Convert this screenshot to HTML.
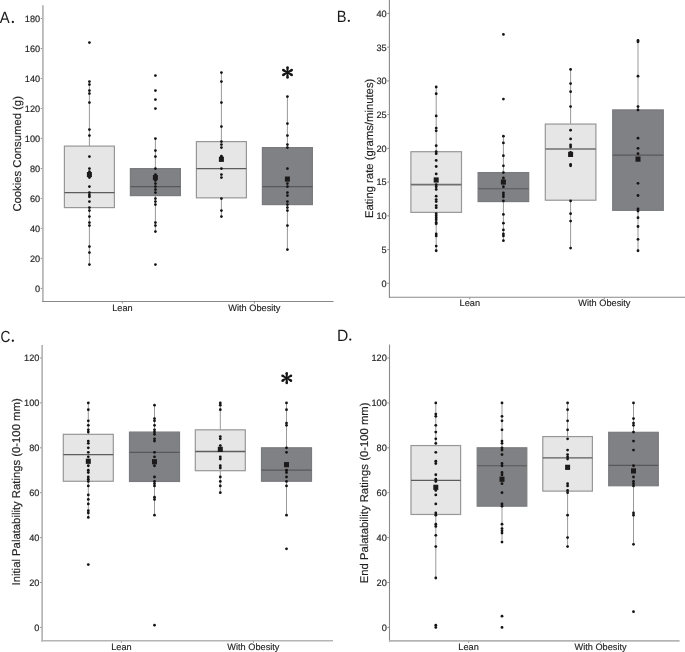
<!DOCTYPE html>
<html><head><meta charset="utf-8"><style>
html,body{margin:0;padding:0;background:#fff;}
svg{display:block;will-change:transform;}
text{font-family:"Liberation Sans",sans-serif;fill:#1a1a1a;text-rendering:geometricPrecision;}
.tk{font-size:9.2px;fill:#262626;stroke:#262626;stroke-width:0.18px;}
.ct{font-size:9.2px;fill:#1f1f1f;stroke:#1f1f1f;stroke-width:0.15px;}
.lb{font-size:11.3px;fill:#1f1f1f;stroke:#1f1f1f;stroke-width:0.15px;}
.lt{font-size:16.2px;fill:#1a1a1a;}
.st{font-size:25px;fill:#1a1a1a;}
</style></head><body>
<svg width="685" height="652" viewBox="0 0 685 652">
<rect width="685" height="652" fill="#fff"/>
<line x1="40.7" y1="288.4" x2="42.9" y2="288.4" stroke="#858585" stroke-width="0.9"/>
<text x="40.2" y="291.8" text-anchor="end" class="tk">0</text>
<line x1="40.7" y1="258.41" x2="42.9" y2="258.41" stroke="#858585" stroke-width="0.9"/>
<text x="40.2" y="261.81" text-anchor="end" class="tk">20</text>
<line x1="40.7" y1="228.42" x2="42.9" y2="228.42" stroke="#858585" stroke-width="0.9"/>
<text x="40.2" y="231.82" text-anchor="end" class="tk">40</text>
<line x1="40.7" y1="198.44" x2="42.9" y2="198.44" stroke="#858585" stroke-width="0.9"/>
<text x="40.2" y="201.84" text-anchor="end" class="tk">60</text>
<line x1="40.7" y1="168.45" x2="42.9" y2="168.45" stroke="#858585" stroke-width="0.9"/>
<text x="40.2" y="171.85" text-anchor="end" class="tk">80</text>
<line x1="40.7" y1="138.46" x2="42.9" y2="138.46" stroke="#858585" stroke-width="0.9"/>
<text x="40.2" y="141.86" text-anchor="end" class="tk">100</text>
<line x1="40.7" y1="108.47" x2="42.9" y2="108.47" stroke="#858585" stroke-width="0.9"/>
<text x="40.2" y="111.87" text-anchor="end" class="tk">120</text>
<line x1="40.7" y1="78.48" x2="42.9" y2="78.48" stroke="#858585" stroke-width="0.9"/>
<text x="40.2" y="81.88" text-anchor="end" class="tk">140</text>
<line x1="40.7" y1="48.5" x2="42.9" y2="48.5" stroke="#858585" stroke-width="0.9"/>
<text x="40.2" y="51.9" text-anchor="end" class="tk">160</text>
<line x1="40.7" y1="18.51" x2="42.9" y2="18.51" stroke="#858585" stroke-width="0.9"/>
<text x="40.2" y="21.91" text-anchor="end" class="tk">180</text>
<line x1="122.4" y1="301.5" x2="122.4" y2="303.5" stroke="#858585" stroke-width="0.9"/>
<text x="122.4" y="311.1" text-anchor="middle" class="ct">Lean</text>
<line x1="254.4" y1="301.5" x2="254.4" y2="303.5" stroke="#858585" stroke-width="0.9"/>
<text x="254.4" y="311.1" text-anchor="middle" class="ct">With Obesity</text>
<line x1="89.4" y1="81.6" x2="89.4" y2="146.1" stroke="#999999" stroke-width="1"/>
<line x1="89.4" y1="207.6" x2="89.4" y2="264.6" stroke="#999999" stroke-width="1"/>
<rect x="64.4" y="146.1" width="50" height="61.5" fill="#e6e6e6" stroke="#979797" stroke-width="1.2"/>
<line x1="64.4" y1="192.6" x2="114.4" y2="192.6" stroke="#5c5c5c" stroke-width="1.3"/>
<circle cx="89.4" cy="42.6" r="1.4" fill="#141414"/>
<circle cx="89.4" cy="81.6" r="1.4" fill="#141414"/>
<circle cx="89.4" cy="84.6" r="1.4" fill="#141414"/>
<circle cx="89.4" cy="90.6" r="1.4" fill="#141414"/>
<circle cx="89.4" cy="93.6" r="1.4" fill="#141414"/>
<circle cx="89.4" cy="102.6" r="1.4" fill="#141414"/>
<circle cx="89.4" cy="129.6" r="1.4" fill="#141414"/>
<circle cx="89.4" cy="135.6" r="1.4" fill="#141414"/>
<circle cx="89.4" cy="156.6" r="1.4" fill="#141414"/>
<circle cx="89.4" cy="168.6" r="1.4" fill="#141414"/>
<circle cx="89.4" cy="171.6" r="1.4" fill="#141414"/>
<circle cx="89.4" cy="174.6" r="1.4" fill="#141414"/>
<circle cx="89.4" cy="177.6" r="1.4" fill="#141414"/>
<circle cx="89.4" cy="186.6" r="1.4" fill="#141414"/>
<circle cx="89.4" cy="192.6" r="1.4" fill="#141414"/>
<circle cx="89.4" cy="195" r="1.4" fill="#141414"/>
<circle cx="89.4" cy="196.8" r="1.4" fill="#141414"/>
<circle cx="89.4" cy="201.6" r="1.4" fill="#141414"/>
<circle cx="89.4" cy="207.6" r="1.4" fill="#141414"/>
<circle cx="89.4" cy="210.6" r="1.4" fill="#141414"/>
<circle cx="89.4" cy="216.6" r="1.4" fill="#141414"/>
<circle cx="89.4" cy="222.6" r="1.4" fill="#141414"/>
<circle cx="89.4" cy="225.6" r="1.4" fill="#141414"/>
<circle cx="89.4" cy="246.6" r="1.4" fill="#141414"/>
<circle cx="89.4" cy="252.6" r="1.4" fill="#141414"/>
<circle cx="89.4" cy="264.6" r="1.4" fill="#141414"/>
<rect x="86.9" y="172" width="5" height="5.2" fill="#1c1a1a"/>
<line x1="155.4" y1="138.6" x2="155.4" y2="168.6" stroke="#999999" stroke-width="1"/>
<line x1="155.4" y1="195.6" x2="155.4" y2="231.6" stroke="#999999" stroke-width="1"/>
<rect x="130.4" y="168.6" width="50" height="27" fill="#808185" stroke="#7a7b7e" stroke-width="1.2"/>
<line x1="130.4" y1="186.6" x2="180.4" y2="186.6" stroke="#58585b" stroke-width="1.2"/>
<circle cx="155.4" cy="75.6" r="1.4" fill="#141414"/>
<circle cx="155.4" cy="90.6" r="1.4" fill="#141414"/>
<circle cx="155.4" cy="99.6" r="1.4" fill="#141414"/>
<circle cx="155.4" cy="108.6" r="1.4" fill="#141414"/>
<circle cx="155.4" cy="138.6" r="1.4" fill="#141414"/>
<circle cx="155.4" cy="150.6" r="1.4" fill="#141414"/>
<circle cx="155.4" cy="156.6" r="1.4" fill="#141414"/>
<circle cx="155.4" cy="168.6" r="1.4" fill="#141414"/>
<circle cx="155.4" cy="174.6" r="1.4" fill="#141414"/>
<circle cx="155.4" cy="177.6" r="1.4" fill="#141414"/>
<circle cx="155.4" cy="180.6" r="1.4" fill="#141414"/>
<circle cx="155.4" cy="183.6" r="1.4" fill="#141414"/>
<circle cx="155.4" cy="186.6" r="1.4" fill="#141414"/>
<circle cx="155.4" cy="189.6" r="1.4" fill="#141414"/>
<circle cx="155.4" cy="192.6" r="1.4" fill="#141414"/>
<circle cx="155.4" cy="198.6" r="1.4" fill="#141414"/>
<circle cx="155.4" cy="201.6" r="1.4" fill="#141414"/>
<circle cx="155.4" cy="204.6" r="1.4" fill="#141414"/>
<circle cx="155.4" cy="222.6" r="1.4" fill="#141414"/>
<circle cx="155.4" cy="225.6" r="1.4" fill="#141414"/>
<circle cx="155.4" cy="231.6" r="1.4" fill="#141414"/>
<circle cx="155.4" cy="264.6" r="1.4" fill="#141414"/>
<rect x="152.9" y="175" width="5" height="5.2" fill="#1c1a1a"/>
<line x1="221.4" y1="72.6" x2="221.4" y2="141.6" stroke="#999999" stroke-width="1"/>
<line x1="221.4" y1="197.85" x2="221.4" y2="216.6" stroke="#999999" stroke-width="1"/>
<rect x="196.4" y="141.6" width="50" height="56.25" fill="#e6e6e6" stroke="#979797" stroke-width="1.2"/>
<line x1="196.4" y1="168.6" x2="246.4" y2="168.6" stroke="#5c5c5c" stroke-width="1.3"/>
<circle cx="221.4" cy="72.6" r="1.4" fill="#141414"/>
<circle cx="221.4" cy="81.6" r="1.4" fill="#141414"/>
<circle cx="221.4" cy="102.6" r="1.4" fill="#141414"/>
<circle cx="221.4" cy="126.6" r="1.4" fill="#141414"/>
<circle cx="221.4" cy="141.6" r="1.4" fill="#141414"/>
<circle cx="221.4" cy="144.6" r="1.4" fill="#141414"/>
<circle cx="221.4" cy="147.6" r="1.4" fill="#141414"/>
<circle cx="221.4" cy="156.15" r="1.4" fill="#141414"/>
<circle cx="221.4" cy="168.6" r="1.4" fill="#141414"/>
<circle cx="221.4" cy="174.6" r="1.4" fill="#141414"/>
<circle cx="221.4" cy="177.6" r="1.4" fill="#141414"/>
<circle cx="221.4" cy="198.6" r="1.4" fill="#141414"/>
<circle cx="221.4" cy="210.6" r="1.4" fill="#141414"/>
<circle cx="221.4" cy="216.6" r="1.4" fill="#141414"/>
<rect x="218.9" y="156.7" width="5" height="5.2" fill="#1c1a1a"/>
<line x1="287.4" y1="96.6" x2="287.4" y2="147.6" stroke="#999999" stroke-width="1"/>
<line x1="287.4" y1="204.6" x2="287.4" y2="249.6" stroke="#999999" stroke-width="1"/>
<rect x="262.4" y="147.6" width="50" height="57" fill="#808185" stroke="#7a7b7e" stroke-width="1.2"/>
<line x1="262.4" y1="186.6" x2="312.4" y2="186.6" stroke="#58585b" stroke-width="1.2"/>
<circle cx="287.4" cy="96.6" r="1.4" fill="#141414"/>
<circle cx="287.4" cy="123.6" r="1.4" fill="#141414"/>
<circle cx="287.4" cy="135.6" r="1.4" fill="#141414"/>
<circle cx="287.4" cy="144.6" r="1.4" fill="#141414"/>
<circle cx="287.4" cy="147.6" r="1.4" fill="#141414"/>
<circle cx="287.4" cy="168.6" r="1.4" fill="#141414"/>
<circle cx="287.4" cy="183.6" r="1.4" fill="#141414"/>
<circle cx="287.4" cy="186.6" r="1.4" fill="#141414"/>
<circle cx="287.4" cy="192.6" r="1.4" fill="#141414"/>
<circle cx="287.4" cy="195.6" r="1.4" fill="#141414"/>
<circle cx="287.4" cy="201.6" r="1.4" fill="#141414"/>
<circle cx="287.4" cy="204.6" r="1.4" fill="#141414"/>
<circle cx="287.4" cy="207.6" r="1.4" fill="#141414"/>
<circle cx="287.4" cy="210.6" r="1.4" fill="#141414"/>
<circle cx="287.4" cy="225.6" r="1.4" fill="#141414"/>
<circle cx="287.4" cy="249.6" r="1.4" fill="#141414"/>
<rect x="284.9" y="176.5" width="5" height="5.2" fill="#1c1a1a"/>
<line x1="42.9" y1="5.3" x2="42.9" y2="302.05" stroke="#b5b5b5" stroke-width="1.7"/>
<line x1="42.05" y1="301.5" x2="333.6" y2="301.5" stroke="#8a8a8a" stroke-width="1.1"/>
<text transform="translate(20.9,153.85) rotate(-90)" text-anchor="middle" class="lb">Cookies Consumed (g)</text>
<text transform="translate(-0.23,22.6) scale(0.92,1)" class="lt">A</text>
<circle cx="12.85" cy="22" r="1.15" fill="#1a1a1a"/>
<g fill="#161616"><polygon points="288.25,72.5 288.75,67.6 286.25,67.6 286.75,72.5"/><circle cx="287.5" cy="67.6" r="1.25"/><polygon points="287.88,71.85 283.88,68.97 282.63,71.13 287.12,73.15"/><circle cx="283.26" cy="70.05" r="1.25"/><polygon points="287.12,71.85 282.63,73.87 283.88,76.03 287.88,73.15"/><circle cx="283.26" cy="74.95" r="1.25"/><polygon points="286.75,72.5 286.25,77.4 288.75,77.4 288.25,72.5"/><circle cx="287.5" cy="77.4" r="1.25"/><polygon points="287.12,73.15 291.12,76.03 292.37,73.87 287.88,71.85"/><circle cx="291.74" cy="74.95" r="1.25"/><polygon points="287.88,73.15 292.37,71.13 291.12,68.97 287.12,71.85"/><circle cx="291.74" cy="70.05" r="1.25"/></g>
<line x1="387.2" y1="283.3" x2="389.4" y2="283.3" stroke="#858585" stroke-width="0.9"/>
<text x="386.7" y="286.7" text-anchor="end" class="tk">0</text>
<line x1="387.2" y1="249.56" x2="389.4" y2="249.56" stroke="#858585" stroke-width="0.9"/>
<text x="386.7" y="252.96" text-anchor="end" class="tk">5</text>
<line x1="387.2" y1="215.83" x2="389.4" y2="215.83" stroke="#858585" stroke-width="0.9"/>
<text x="386.7" y="219.23" text-anchor="end" class="tk">10</text>
<line x1="387.2" y1="182.09" x2="389.4" y2="182.09" stroke="#858585" stroke-width="0.9"/>
<text x="386.7" y="185.49" text-anchor="end" class="tk">15</text>
<line x1="387.2" y1="148.35" x2="389.4" y2="148.35" stroke="#858585" stroke-width="0.9"/>
<text x="386.7" y="151.75" text-anchor="end" class="tk">20</text>
<line x1="387.2" y1="114.61" x2="389.4" y2="114.61" stroke="#858585" stroke-width="0.9"/>
<text x="386.7" y="118.01" text-anchor="end" class="tk">25</text>
<line x1="387.2" y1="80.88" x2="389.4" y2="80.88" stroke="#858585" stroke-width="0.9"/>
<text x="386.7" y="84.28" text-anchor="end" class="tk">30</text>
<line x1="387.2" y1="47.14" x2="389.4" y2="47.14" stroke="#858585" stroke-width="0.9"/>
<text x="386.7" y="50.54" text-anchor="end" class="tk">35</text>
<line x1="387.2" y1="13.4" x2="389.4" y2="13.4" stroke="#858585" stroke-width="0.9"/>
<text x="386.7" y="16.8" text-anchor="end" class="tk">40</text>
<line x1="469.8" y1="297.3" x2="469.8" y2="299.3" stroke="#858585" stroke-width="0.9"/>
<text x="469.8" y="306.4" text-anchor="middle" class="ct">Lean</text>
<line x1="604.4" y1="297.3" x2="604.4" y2="299.3" stroke="#858585" stroke-width="0.9"/>
<text x="604.4" y="306.4" text-anchor="middle" class="ct">With Obesity</text>
<line x1="436.2" y1="86.99" x2="436.2" y2="151.7" stroke="#999999" stroke-width="1"/>
<line x1="436.2" y1="212.36" x2="436.2" y2="250.77" stroke="#999999" stroke-width="1"/>
<rect x="410.9" y="151.7" width="50.6" height="60.66" fill="#e6e6e6" stroke="#979797" stroke-width="1.2"/>
<line x1="410.9" y1="184.72" x2="461.5" y2="184.72" stroke="#707070" stroke-width="1.7"/>
<circle cx="436.2" cy="86.99" r="1.4" fill="#141414"/>
<circle cx="436.2" cy="93.73" r="1.4" fill="#141414"/>
<circle cx="436.2" cy="115.97" r="1.4" fill="#141414"/>
<circle cx="436.2" cy="128.11" r="1.4" fill="#141414"/>
<circle cx="436.2" cy="130.8" r="1.4" fill="#141414"/>
<circle cx="436.2" cy="145.63" r="1.4" fill="#141414"/>
<circle cx="436.2" cy="151.7" r="1.4" fill="#141414"/>
<circle cx="436.2" cy="153.72" r="1.4" fill="#141414"/>
<circle cx="436.2" cy="160.46" r="1.4" fill="#141414"/>
<circle cx="436.2" cy="166.52" r="1.4" fill="#141414"/>
<circle cx="436.2" cy="173.94" r="1.4" fill="#141414"/>
<circle cx="436.2" cy="179.33" r="1.4" fill="#141414"/>
<circle cx="436.2" cy="184.72" r="1.4" fill="#141414"/>
<circle cx="436.2" cy="186.74" r="1.4" fill="#141414"/>
<circle cx="436.2" cy="189.44" r="1.4" fill="#141414"/>
<circle cx="436.2" cy="196.18" r="1.4" fill="#141414"/>
<circle cx="436.2" cy="199.55" r="1.4" fill="#141414"/>
<circle cx="436.2" cy="201.57" r="1.4" fill="#141414"/>
<circle cx="436.2" cy="205.62" r="1.4" fill="#141414"/>
<circle cx="436.2" cy="207.64" r="1.4" fill="#141414"/>
<circle cx="436.2" cy="213.7" r="1.4" fill="#141414"/>
<circle cx="436.2" cy="215.73" r="1.4" fill="#141414"/>
<circle cx="436.2" cy="217.75" r="1.4" fill="#141414"/>
<circle cx="436.2" cy="219.77" r="1.4" fill="#141414"/>
<circle cx="436.2" cy="222.47" r="1.4" fill="#141414"/>
<circle cx="436.2" cy="223.81" r="1.4" fill="#141414"/>
<circle cx="436.2" cy="233.92" r="1.4" fill="#141414"/>
<circle cx="436.2" cy="235.95" r="1.4" fill="#141414"/>
<circle cx="436.2" cy="246.06" r="1.4" fill="#141414"/>
<circle cx="436.2" cy="250.77" r="1.4" fill="#141414"/>
<rect x="433.7" y="177.4" width="5" height="5.2" fill="#1c1a1a"/>
<line x1="503.4" y1="136.19" x2="503.4" y2="172.59" stroke="#999999" stroke-width="1"/>
<line x1="503.4" y1="201.57" x2="503.4" y2="240.66" stroke="#999999" stroke-width="1"/>
<rect x="478.1" y="172.59" width="50.6" height="28.98" fill="#808185" stroke="#7a7b7e" stroke-width="1.2"/>
<line x1="478.1" y1="188.77" x2="528.7" y2="188.77" stroke="#58585b" stroke-width="1.2"/>
<circle cx="503.4" cy="34.42" r="1.4" fill="#141414"/>
<circle cx="503.4" cy="99.12" r="1.4" fill="#141414"/>
<circle cx="503.4" cy="136.19" r="1.4" fill="#141414"/>
<circle cx="503.4" cy="142.93" r="1.4" fill="#141414"/>
<circle cx="503.4" cy="155.74" r="1.4" fill="#141414"/>
<circle cx="503.4" cy="165.85" r="1.4" fill="#141414"/>
<circle cx="503.4" cy="172.59" r="1.4" fill="#141414"/>
<circle cx="503.4" cy="177.98" r="1.4" fill="#141414"/>
<circle cx="503.4" cy="181.35" r="1.4" fill="#141414"/>
<circle cx="503.4" cy="186.74" r="1.4" fill="#141414"/>
<circle cx="503.4" cy="192.81" r="1.4" fill="#141414"/>
<circle cx="503.4" cy="194.83" r="1.4" fill="#141414"/>
<circle cx="503.4" cy="196.85" r="1.4" fill="#141414"/>
<circle cx="503.4" cy="200.9" r="1.4" fill="#141414"/>
<circle cx="503.4" cy="214.38" r="1.4" fill="#141414"/>
<circle cx="503.4" cy="223.14" r="1.4" fill="#141414"/>
<circle cx="503.4" cy="229.88" r="1.4" fill="#141414"/>
<circle cx="503.4" cy="233.92" r="1.4" fill="#141414"/>
<circle cx="503.4" cy="235.95" r="1.4" fill="#141414"/>
<circle cx="503.4" cy="240.66" r="1.4" fill="#141414"/>
<rect x="500.9" y="179.43" width="5" height="5.2" fill="#1c1a1a"/>
<line x1="570.6" y1="69.47" x2="570.6" y2="124.06" stroke="#999999" stroke-width="1"/>
<line x1="570.6" y1="200.22" x2="570.6" y2="248.08" stroke="#999999" stroke-width="1"/>
<rect x="545.3" y="124.06" width="50.6" height="76.16" fill="#e6e6e6" stroke="#979797" stroke-width="1.2"/>
<line x1="545.3" y1="149" x2="595.9" y2="149" stroke="#707070" stroke-width="1.7"/>
<circle cx="570.6" cy="69.47" r="1.4" fill="#141414"/>
<circle cx="570.6" cy="83.62" r="1.4" fill="#141414"/>
<circle cx="570.6" cy="91.71" r="1.4" fill="#141414"/>
<circle cx="570.6" cy="106.54" r="1.4" fill="#141414"/>
<circle cx="570.6" cy="130.13" r="1.4" fill="#141414"/>
<circle cx="570.6" cy="138.89" r="1.4" fill="#141414"/>
<circle cx="570.6" cy="144.96" r="1.4" fill="#141414"/>
<circle cx="570.6" cy="146.98" r="1.4" fill="#141414"/>
<circle cx="570.6" cy="152.37" r="1.4" fill="#141414"/>
<circle cx="570.6" cy="164.5" r="1.4" fill="#141414"/>
<circle cx="570.6" cy="165.85" r="1.4" fill="#141414"/>
<circle cx="570.6" cy="200.9" r="1.4" fill="#141414"/>
<circle cx="570.6" cy="213.7" r="1.4" fill="#141414"/>
<circle cx="570.6" cy="221.12" r="1.4" fill="#141414"/>
<circle cx="570.6" cy="248.08" r="1.4" fill="#141414"/>
<rect x="568.1" y="151.79" width="5" height="5.2" fill="#1c1a1a"/>
<line x1="638" y1="40.49" x2="638" y2="109.91" stroke="#999999" stroke-width="1"/>
<line x1="638" y1="210.33" x2="638" y2="250.77" stroke="#999999" stroke-width="1"/>
<rect x="612.7" y="109.91" width="50.6" height="100.43" fill="#808185" stroke="#7a7b7e" stroke-width="1.2"/>
<line x1="612.7" y1="155.07" x2="663.3" y2="155.07" stroke="#58585b" stroke-width="1.2"/>
<circle cx="638" cy="40.49" r="1.4" fill="#141414"/>
<circle cx="638" cy="41.83" r="1.4" fill="#141414"/>
<circle cx="638" cy="76.21" r="1.4" fill="#141414"/>
<circle cx="638" cy="106.54" r="1.4" fill="#141414"/>
<circle cx="638" cy="109.91" r="1.4" fill="#141414"/>
<circle cx="638" cy="138.22" r="1.4" fill="#141414"/>
<circle cx="638" cy="148.33" r="1.4" fill="#141414"/>
<circle cx="638" cy="153.72" r="1.4" fill="#141414"/>
<circle cx="638" cy="183.37" r="1.4" fill="#141414"/>
<circle cx="638" cy="195.51" r="1.4" fill="#141414"/>
<circle cx="638" cy="208.99" r="1.4" fill="#141414"/>
<circle cx="638" cy="211.01" r="1.4" fill="#141414"/>
<circle cx="638" cy="217.75" r="1.4" fill="#141414"/>
<circle cx="638" cy="226.51" r="1.4" fill="#141414"/>
<circle cx="638" cy="239.32" r="1.4" fill="#141414"/>
<circle cx="638" cy="250.77" r="1.4" fill="#141414"/>
<rect x="635.5" y="156.51" width="5" height="5.2" fill="#1c1a1a"/>
<line x1="389.4" y1="0" x2="389.4" y2="297.85" stroke="#8a8a8a" stroke-width="1.1"/>
<line x1="388.85" y1="297.3" x2="685" y2="297.3" stroke="#8a8a8a" stroke-width="1.1"/>
<text transform="translate(372.6,148.4) rotate(-90)" text-anchor="middle" class="lb">Eating rate (grams/minutes)</text>
<text transform="translate(336.78,21.8) scale(0.906,1)" class="lt">B</text>
<circle cx="348.85" cy="20.85" r="1.15" fill="#1a1a1a"/>
<line x1="39.95" y1="627.4" x2="42.15" y2="627.4" stroke="#858585" stroke-width="0.9"/>
<text x="39.45" y="630.8" text-anchor="end" class="tk">0</text>
<line x1="39.95" y1="582.5" x2="42.15" y2="582.5" stroke="#858585" stroke-width="0.9"/>
<text x="39.45" y="585.9" text-anchor="end" class="tk">20</text>
<line x1="39.95" y1="537.6" x2="42.15" y2="537.6" stroke="#858585" stroke-width="0.9"/>
<text x="39.45" y="541" text-anchor="end" class="tk">40</text>
<line x1="39.95" y1="492.7" x2="42.15" y2="492.7" stroke="#858585" stroke-width="0.9"/>
<text x="39.45" y="496.1" text-anchor="end" class="tk">60</text>
<line x1="39.95" y1="447.8" x2="42.15" y2="447.8" stroke="#858585" stroke-width="0.9"/>
<text x="39.45" y="451.2" text-anchor="end" class="tk">80</text>
<line x1="39.95" y1="402.9" x2="42.15" y2="402.9" stroke="#858585" stroke-width="0.9"/>
<text x="39.45" y="406.3" text-anchor="end" class="tk">100</text>
<line x1="39.95" y1="358" x2="42.15" y2="358" stroke="#858585" stroke-width="0.9"/>
<text x="39.45" y="361.4" text-anchor="end" class="tk">120</text>
<line x1="121.4" y1="640.75" x2="121.4" y2="642.75" stroke="#858585" stroke-width="0.9"/>
<text x="121.4" y="650.35" text-anchor="middle" class="ct">Lean</text>
<line x1="253.4" y1="640.75" x2="253.4" y2="642.75" stroke="#858585" stroke-width="0.9"/>
<text x="253.4" y="650.35" text-anchor="middle" class="ct">With Obesity</text>
<line x1="88.3" y1="402.9" x2="88.3" y2="434.33" stroke="#999999" stroke-width="1"/>
<line x1="88.3" y1="481.25" x2="88.3" y2="517.39" stroke="#999999" stroke-width="1"/>
<rect x="63.3" y="434.33" width="50" height="46.92" fill="#e6e6e6" stroke="#979797" stroke-width="1.2"/>
<line x1="63.3" y1="454.53" x2="113.3" y2="454.53" stroke="#5c5c5c" stroke-width="1.3"/>
<circle cx="88.3" cy="402.9" r="1.4" fill="#141414"/>
<circle cx="88.3" cy="409.63" r="1.4" fill="#141414"/>
<circle cx="88.3" cy="420.86" r="1.4" fill="#141414"/>
<circle cx="88.3" cy="425.35" r="1.4" fill="#141414"/>
<circle cx="88.3" cy="429.84" r="1.4" fill="#141414"/>
<circle cx="88.3" cy="432.08" r="1.4" fill="#141414"/>
<circle cx="88.3" cy="441.06" r="1.4" fill="#141414"/>
<circle cx="88.3" cy="443.31" r="1.4" fill="#141414"/>
<circle cx="88.3" cy="447.8" r="1.4" fill="#141414"/>
<circle cx="88.3" cy="452.29" r="1.4" fill="#141414"/>
<circle cx="88.3" cy="456.78" r="1.4" fill="#141414"/>
<circle cx="88.3" cy="465.76" r="1.4" fill="#141414"/>
<circle cx="88.3" cy="470.25" r="1.4" fill="#141414"/>
<circle cx="88.3" cy="472.5" r="1.4" fill="#141414"/>
<circle cx="88.3" cy="476.98" r="1.4" fill="#141414"/>
<circle cx="88.3" cy="479.23" r="1.4" fill="#141414"/>
<circle cx="88.3" cy="481.47" r="1.4" fill="#141414"/>
<circle cx="88.3" cy="485.96" r="1.4" fill="#141414"/>
<circle cx="88.3" cy="494.94" r="1.4" fill="#141414"/>
<circle cx="88.3" cy="499.43" r="1.4" fill="#141414"/>
<circle cx="88.3" cy="503.92" r="1.4" fill="#141414"/>
<circle cx="88.3" cy="510.66" r="1.4" fill="#141414"/>
<circle cx="88.3" cy="512.9" r="1.4" fill="#141414"/>
<circle cx="88.3" cy="517.39" r="1.4" fill="#141414"/>
<circle cx="88.3" cy="564.54" r="1.4" fill="#141414"/>
<rect x="85.8" y="458.67" width="5" height="5.2" fill="#1c1a1a"/>
<line x1="154.5" y1="405.14" x2="154.5" y2="432.08" stroke="#999999" stroke-width="1"/>
<line x1="154.5" y1="481.47" x2="154.5" y2="515.15" stroke="#999999" stroke-width="1"/>
<rect x="129.5" y="432.08" width="50" height="49.39" fill="#808185" stroke="#7a7b7e" stroke-width="1.2"/>
<line x1="129.5" y1="452.29" x2="179.5" y2="452.29" stroke="#58585b" stroke-width="1.2"/>
<circle cx="154.5" cy="405.14" r="1.4" fill="#141414"/>
<circle cx="154.5" cy="418.62" r="1.4" fill="#141414"/>
<circle cx="154.5" cy="420.86" r="1.4" fill="#141414"/>
<circle cx="154.5" cy="425.35" r="1.4" fill="#141414"/>
<circle cx="154.5" cy="429.84" r="1.4" fill="#141414"/>
<circle cx="154.5" cy="432.08" r="1.4" fill="#141414"/>
<circle cx="154.5" cy="434.33" r="1.4" fill="#141414"/>
<circle cx="154.5" cy="438.82" r="1.4" fill="#141414"/>
<circle cx="154.5" cy="441.06" r="1.4" fill="#141414"/>
<circle cx="154.5" cy="452.29" r="1.4" fill="#141414"/>
<circle cx="154.5" cy="456.78" r="1.4" fill="#141414"/>
<circle cx="154.5" cy="465.76" r="1.4" fill="#141414"/>
<circle cx="154.5" cy="476.98" r="1.4" fill="#141414"/>
<circle cx="154.5" cy="481.47" r="1.4" fill="#141414"/>
<circle cx="154.5" cy="483.72" r="1.4" fill="#141414"/>
<circle cx="154.5" cy="485.96" r="1.4" fill="#141414"/>
<circle cx="154.5" cy="497.19" r="1.4" fill="#141414"/>
<circle cx="154.5" cy="499.43" r="1.4" fill="#141414"/>
<circle cx="154.5" cy="515.15" r="1.4" fill="#141414"/>
<circle cx="154.5" cy="625.15" r="1.4" fill="#141414"/>
<rect x="152" y="459.12" width="5" height="5.2" fill="#1c1a1a"/>
<line x1="220.3" y1="402.9" x2="220.3" y2="429.84" stroke="#999999" stroke-width="1"/>
<line x1="220.3" y1="470.7" x2="220.3" y2="492.7" stroke="#999999" stroke-width="1"/>
<rect x="195.3" y="429.84" width="50" height="40.86" fill="#e6e6e6" stroke="#979797" stroke-width="1.2"/>
<line x1="195.3" y1="451.5" x2="245.3" y2="451.5" stroke="#5c5c5c" stroke-width="1.3"/>
<circle cx="220.3" cy="402.9" r="1.4" fill="#141414"/>
<circle cx="220.3" cy="405.14" r="1.4" fill="#141414"/>
<circle cx="220.3" cy="409.63" r="1.4" fill="#141414"/>
<circle cx="220.3" cy="436.57" r="1.4" fill="#141414"/>
<circle cx="220.3" cy="438.82" r="1.4" fill="#141414"/>
<circle cx="220.3" cy="445.55" r="1.4" fill="#141414"/>
<circle cx="220.3" cy="456.78" r="1.4" fill="#141414"/>
<circle cx="220.3" cy="459.02" r="1.4" fill="#141414"/>
<circle cx="220.3" cy="465.76" r="1.4" fill="#141414"/>
<circle cx="220.3" cy="468" r="1.4" fill="#141414"/>
<circle cx="220.3" cy="476.98" r="1.4" fill="#141414"/>
<circle cx="220.3" cy="481.47" r="1.4" fill="#141414"/>
<circle cx="220.3" cy="485.96" r="1.4" fill="#141414"/>
<circle cx="220.3" cy="492.7" r="1.4" fill="#141414"/>
<rect x="217.8" y="446.77" width="5" height="5.2" fill="#1c1a1a"/>
<line x1="286.5" y1="402.9" x2="286.5" y2="447.8" stroke="#999999" stroke-width="1"/>
<line x1="286.5" y1="481.25" x2="286.5" y2="515.15" stroke="#999999" stroke-width="1"/>
<rect x="261.5" y="447.8" width="50" height="33.45" fill="#808185" stroke="#7a7b7e" stroke-width="1.2"/>
<line x1="261.5" y1="470.03" x2="311.5" y2="470.03" stroke="#58585b" stroke-width="1.2"/>
<circle cx="286.5" cy="402.9" r="1.4" fill="#141414"/>
<circle cx="286.5" cy="409.63" r="1.4" fill="#141414"/>
<circle cx="286.5" cy="423.1" r="1.4" fill="#141414"/>
<circle cx="286.5" cy="425.35" r="1.4" fill="#141414"/>
<circle cx="286.5" cy="447.8" r="1.4" fill="#141414"/>
<circle cx="286.5" cy="452.29" r="1.4" fill="#141414"/>
<circle cx="286.5" cy="470.25" r="1.4" fill="#141414"/>
<circle cx="286.5" cy="472.5" r="1.4" fill="#141414"/>
<circle cx="286.5" cy="476.98" r="1.4" fill="#141414"/>
<circle cx="286.5" cy="481.47" r="1.4" fill="#141414"/>
<circle cx="286.5" cy="485.96" r="1.4" fill="#141414"/>
<circle cx="286.5" cy="515.15" r="1.4" fill="#141414"/>
<circle cx="286.5" cy="548.82" r="1.4" fill="#141414"/>
<rect x="284" y="462.04" width="5" height="5.2" fill="#1c1a1a"/>
<line x1="42.15" y1="345" x2="42.15" y2="641.6" stroke="#b5b5b5" stroke-width="1.7"/>
<line x1="41.3" y1="640.75" x2="333" y2="640.75" stroke="#b5b5b5" stroke-width="1.7"/>
<text transform="translate(20.1,491.9) rotate(-90)" text-anchor="middle" class="lb">Initial Palatability Ratings (0-100 mm)</text>
<text transform="translate(0.45,341.5) scale(0.843,1)" class="lt">C</text>
<circle cx="12.85" cy="340.75" r="1.15" fill="#1a1a1a"/>
<g fill="#161616"><polygon points="287.5,378.2 288,373.3 285.5,373.3 286,378.2"/><circle cx="286.75" cy="373.3" r="1.25"/><polygon points="287.12,377.55 283.13,374.67 281.88,376.83 286.38,378.85"/><circle cx="282.51" cy="375.75" r="1.25"/><polygon points="286.38,377.55 281.88,379.57 283.13,381.73 287.12,378.85"/><circle cx="282.51" cy="380.65" r="1.25"/><polygon points="286,378.2 285.5,383.1 288,383.1 287.5,378.2"/><circle cx="286.75" cy="383.1" r="1.25"/><polygon points="286.38,378.85 290.37,381.73 291.62,379.57 287.12,377.55"/><circle cx="290.99" cy="380.65" r="1.25"/><polygon points="287.12,378.85 291.62,376.83 290.37,374.67 286.38,377.55"/><circle cx="290.99" cy="375.75" r="1.25"/></g>
<line x1="387.3" y1="627.4" x2="389.5" y2="627.4" stroke="#858585" stroke-width="0.9"/>
<text x="386.8" y="630.8" text-anchor="end" class="tk">0</text>
<line x1="387.3" y1="582.5" x2="389.5" y2="582.5" stroke="#858585" stroke-width="0.9"/>
<text x="386.8" y="585.9" text-anchor="end" class="tk">20</text>
<line x1="387.3" y1="537.6" x2="389.5" y2="537.6" stroke="#858585" stroke-width="0.9"/>
<text x="386.8" y="541" text-anchor="end" class="tk">40</text>
<line x1="387.3" y1="492.7" x2="389.5" y2="492.7" stroke="#858585" stroke-width="0.9"/>
<text x="386.8" y="496.1" text-anchor="end" class="tk">60</text>
<line x1="387.3" y1="447.8" x2="389.5" y2="447.8" stroke="#858585" stroke-width="0.9"/>
<text x="386.8" y="451.2" text-anchor="end" class="tk">80</text>
<line x1="387.3" y1="402.9" x2="389.5" y2="402.9" stroke="#858585" stroke-width="0.9"/>
<text x="386.8" y="406.3" text-anchor="end" class="tk">100</text>
<line x1="387.3" y1="358" x2="389.5" y2="358" stroke="#858585" stroke-width="0.9"/>
<text x="386.8" y="361.4" text-anchor="end" class="tk">120</text>
<line x1="468.6" y1="640.85" x2="468.6" y2="642.85" stroke="#858585" stroke-width="0.9"/>
<text x="468.6" y="650.45" text-anchor="middle" class="ct">Lean</text>
<line x1="600.6" y1="640.85" x2="600.6" y2="642.85" stroke="#858585" stroke-width="0.9"/>
<text x="600.6" y="650.45" text-anchor="middle" class="ct">With Obesity</text>
<line x1="435.8" y1="402.9" x2="435.8" y2="445.55" stroke="#999999" stroke-width="1"/>
<line x1="435.8" y1="514.48" x2="435.8" y2="578.01" stroke="#999999" stroke-width="1"/>
<rect x="411" y="445.55" width="49.6" height="68.92" fill="#e6e6e6" stroke="#979797" stroke-width="1.2"/>
<line x1="411" y1="480.35" x2="460.6" y2="480.35" stroke="#5c5c5c" stroke-width="1.3"/>
<circle cx="435.8" cy="402.9" r="1.4" fill="#141414"/>
<circle cx="435.8" cy="414.12" r="1.4" fill="#141414"/>
<circle cx="435.8" cy="416.37" r="1.4" fill="#141414"/>
<circle cx="435.8" cy="425.35" r="1.4" fill="#141414"/>
<circle cx="435.8" cy="432.08" r="1.4" fill="#141414"/>
<circle cx="435.8" cy="438.82" r="1.4" fill="#141414"/>
<circle cx="435.8" cy="443.31" r="1.4" fill="#141414"/>
<circle cx="435.8" cy="452.29" r="1.4" fill="#141414"/>
<circle cx="435.8" cy="461.27" r="1.4" fill="#141414"/>
<circle cx="435.8" cy="463.51" r="1.4" fill="#141414"/>
<circle cx="435.8" cy="474.74" r="1.4" fill="#141414"/>
<circle cx="435.8" cy="479.23" r="1.4" fill="#141414"/>
<circle cx="435.8" cy="481.47" r="1.4" fill="#141414"/>
<circle cx="435.8" cy="490.45" r="1.4" fill="#141414"/>
<circle cx="435.8" cy="494.94" r="1.4" fill="#141414"/>
<circle cx="435.8" cy="503.92" r="1.4" fill="#141414"/>
<circle cx="435.8" cy="512.9" r="1.4" fill="#141414"/>
<circle cx="435.8" cy="515.15" r="1.4" fill="#141414"/>
<circle cx="435.8" cy="524.13" r="1.4" fill="#141414"/>
<circle cx="435.8" cy="526.38" r="1.4" fill="#141414"/>
<circle cx="435.8" cy="535.36" r="1.4" fill="#141414"/>
<circle cx="435.8" cy="546.58" r="1.4" fill="#141414"/>
<circle cx="435.8" cy="578.01" r="1.4" fill="#141414"/>
<circle cx="435.8" cy="625.15" r="1.4" fill="#141414"/>
<circle cx="435.8" cy="627.4" r="1.4" fill="#141414"/>
<rect x="433.3" y="484.71" width="5" height="5.2" fill="#1c1a1a"/>
<line x1="502" y1="402.9" x2="502" y2="447.8" stroke="#999999" stroke-width="1"/>
<line x1="502" y1="506.17" x2="502" y2="542.09" stroke="#999999" stroke-width="1"/>
<rect x="477.2" y="447.8" width="49.6" height="58.37" fill="#808185" stroke="#7a7b7e" stroke-width="1.2"/>
<line x1="477.2" y1="465.76" x2="526.8" y2="465.76" stroke="#58585b" stroke-width="1.2"/>
<circle cx="502" cy="402.9" r="1.4" fill="#141414"/>
<circle cx="502" cy="416.37" r="1.4" fill="#141414"/>
<circle cx="502" cy="420.86" r="1.4" fill="#141414"/>
<circle cx="502" cy="429.84" r="1.4" fill="#141414"/>
<circle cx="502" cy="441.06" r="1.4" fill="#141414"/>
<circle cx="502" cy="443.31" r="1.4" fill="#141414"/>
<circle cx="502" cy="447.8" r="1.4" fill="#141414"/>
<circle cx="502" cy="450.04" r="1.4" fill="#141414"/>
<circle cx="502" cy="454.53" r="1.4" fill="#141414"/>
<circle cx="502" cy="463.51" r="1.4" fill="#141414"/>
<circle cx="502" cy="465.76" r="1.4" fill="#141414"/>
<circle cx="502" cy="472.5" r="1.4" fill="#141414"/>
<circle cx="502" cy="474.74" r="1.4" fill="#141414"/>
<circle cx="502" cy="483.72" r="1.4" fill="#141414"/>
<circle cx="502" cy="492.7" r="1.4" fill="#141414"/>
<circle cx="502" cy="503.92" r="1.4" fill="#141414"/>
<circle cx="502" cy="506.17" r="1.4" fill="#141414"/>
<circle cx="502" cy="524.13" r="1.4" fill="#141414"/>
<circle cx="502" cy="528.62" r="1.4" fill="#141414"/>
<circle cx="502" cy="530.87" r="1.4" fill="#141414"/>
<circle cx="502" cy="533.11" r="1.4" fill="#141414"/>
<circle cx="502" cy="542.09" r="1.4" fill="#141414"/>
<circle cx="502" cy="616.17" r="1.4" fill="#141414"/>
<circle cx="502" cy="627.4" r="1.4" fill="#141414"/>
<rect x="499.5" y="476.63" width="5" height="5.2" fill="#1c1a1a"/>
<line x1="567.6" y1="402.9" x2="567.6" y2="436.57" stroke="#999999" stroke-width="1"/>
<line x1="567.6" y1="491.13" x2="567.6" y2="546.58" stroke="#999999" stroke-width="1"/>
<rect x="542.8" y="436.57" width="49.6" height="54.55" fill="#e6e6e6" stroke="#979797" stroke-width="1.2"/>
<line x1="542.8" y1="457.9" x2="592.4" y2="457.9" stroke="#5c5c5c" stroke-width="1.3"/>
<circle cx="567.6" cy="402.9" r="1.4" fill="#141414"/>
<circle cx="567.6" cy="409.63" r="1.4" fill="#141414"/>
<circle cx="567.6" cy="420.86" r="1.4" fill="#141414"/>
<circle cx="567.6" cy="429.84" r="1.4" fill="#141414"/>
<circle cx="567.6" cy="438.82" r="1.4" fill="#141414"/>
<circle cx="567.6" cy="450.04" r="1.4" fill="#141414"/>
<circle cx="567.6" cy="454.53" r="1.4" fill="#141414"/>
<circle cx="567.6" cy="456.78" r="1.4" fill="#141414"/>
<circle cx="567.6" cy="459.02" r="1.4" fill="#141414"/>
<circle cx="567.6" cy="483.72" r="1.4" fill="#141414"/>
<circle cx="567.6" cy="485.96" r="1.4" fill="#141414"/>
<circle cx="567.6" cy="490.45" r="1.4" fill="#141414"/>
<circle cx="567.6" cy="492.7" r="1.4" fill="#141414"/>
<circle cx="567.6" cy="515.15" r="1.4" fill="#141414"/>
<circle cx="567.6" cy="537.6" r="1.4" fill="#141414"/>
<circle cx="567.6" cy="546.58" r="1.4" fill="#141414"/>
<rect x="565.1" y="464.73" width="5" height="5.2" fill="#1c1a1a"/>
<line x1="633.5" y1="402.9" x2="633.5" y2="432.31" stroke="#999999" stroke-width="1"/>
<line x1="633.5" y1="485.74" x2="633.5" y2="544.34" stroke="#999999" stroke-width="1"/>
<rect x="608.7" y="432.31" width="49.6" height="53.43" fill="#808185" stroke="#7a7b7e" stroke-width="1.2"/>
<line x1="608.7" y1="465.31" x2="658.3" y2="465.31" stroke="#58585b" stroke-width="1.2"/>
<circle cx="633.5" cy="402.9" r="1.4" fill="#141414"/>
<circle cx="633.5" cy="418.62" r="1.4" fill="#141414"/>
<circle cx="633.5" cy="423.1" r="1.4" fill="#141414"/>
<circle cx="633.5" cy="425.35" r="1.4" fill="#141414"/>
<circle cx="633.5" cy="432.08" r="1.4" fill="#141414"/>
<circle cx="633.5" cy="441.06" r="1.4" fill="#141414"/>
<circle cx="633.5" cy="450.04" r="1.4" fill="#141414"/>
<circle cx="633.5" cy="465.76" r="1.4" fill="#141414"/>
<circle cx="633.5" cy="476.98" r="1.4" fill="#141414"/>
<circle cx="633.5" cy="481.47" r="1.4" fill="#141414"/>
<circle cx="633.5" cy="483.72" r="1.4" fill="#141414"/>
<circle cx="633.5" cy="485.96" r="1.4" fill="#141414"/>
<circle cx="633.5" cy="512.9" r="1.4" fill="#141414"/>
<circle cx="633.5" cy="515.15" r="1.4" fill="#141414"/>
<circle cx="633.5" cy="544.34" r="1.4" fill="#141414"/>
<circle cx="633.5" cy="611.68" r="1.4" fill="#141414"/>
<rect x="631" y="468.32" width="5" height="5.2" fill="#1c1a1a"/>
<line x1="389.5" y1="344.4" x2="389.5" y2="641.7" stroke="#8a8a8a" stroke-width="1.1"/>
<line x1="388.95" y1="640.85" x2="679.6" y2="640.85" stroke="#b5b5b5" stroke-width="1.7"/>
<text transform="translate(368.1,492.9) rotate(-90)" text-anchor="middle" class="lb">End Palatability Ratings (0-100 mm)</text>
<text transform="translate(337,340.5) scale(0.968,1)" class="lt">D</text>
<circle cx="350.25" cy="339.55" r="1.15" fill="#1a1a1a"/>
</svg>
</body></html>
